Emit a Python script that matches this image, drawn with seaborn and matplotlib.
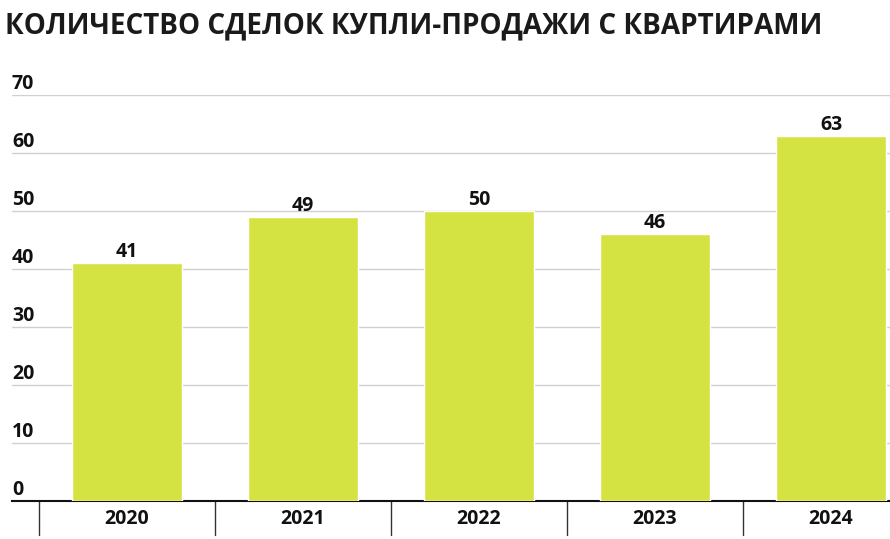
import pandas as pd
import matplotlib.pyplot as plt
import seaborn as sns

# данные
years = ['2020', '2021', '2022', '2023', '2024']
deals = [41, 49, 50, 46, 63]
y_ticks = [0, 10, 20, 30, 40, 50, 60, 70]

df = pd.DataFrame({'year': years, 'deals': deals})

sns.set_style('white')
plt.rcParams['font.family'] = ['Open Sans', 'DejaVu Sans']

fig = plt.figure(figsize=(8.9, 5.39), dpi=100)
ax = fig.add_axes([12 / 890, 1 - 501 / 539, 878 / 890, 406 / 539])

sns.barplot(data=df, x='year', y='deals', color='#d4e342', width=0.62,
            saturation=1, ax=ax, zorder=3)

ax.set_xlim(-0.653, 4.335)
ax.set_ylim(0, 70)

# сетка
for t in y_ticks[1:]:
    ax.axhline(t, color='#d0d0d0', lw=1, zorder=1)

# подписи оси Y над линиями
for t in y_ticks:
    ax.text(0, t + 1.1, str(t), transform=ax.get_yaxis_transform(),
            ha='left', va='baseline', fontsize=14, fontweight='bold', color='#111111')

# подписи значений
for i, v in enumerate(deals):
    ax.text(i, v + 1.05, str(v), ha='center', va='baseline',
            fontsize=14, fontweight='bold', color='#111111')

ax.set_yticks([])
ax.set_xticks(range(len(years)))
ax.set_xticklabels(years, fontsize=14, fontweight='bold', color='#111111')
ax.tick_params(axis='x', length=0, pad=6)
ax.set_xlabel('')
ax.set_ylabel('')

for s in ['top', 'right', 'left']:
    ax.spines[s].set_visible(False)
ax.spines['bottom'].set_color('#111111')
ax.spines['bottom'].set_linewidth(1.5)

# разделители категорий
for i in range(len(years)):
    ax.plot([i - 0.5, i - 0.5], [0, -5.8], color='#333333', lw=1,
            clip_on=False, zorder=2)

fig.text(5 / 890, 1 - 26 / 539, 'КОЛИЧЕСТВО СДЕЛОК КУПЛИ-ПРОДАЖИ С КВАРТИРАМИ',
         ha='left', va='center', fontsize=20.1, fontweight='bold', color='#1a1a1a')

fig.savefig('out.png', dpi=100)
